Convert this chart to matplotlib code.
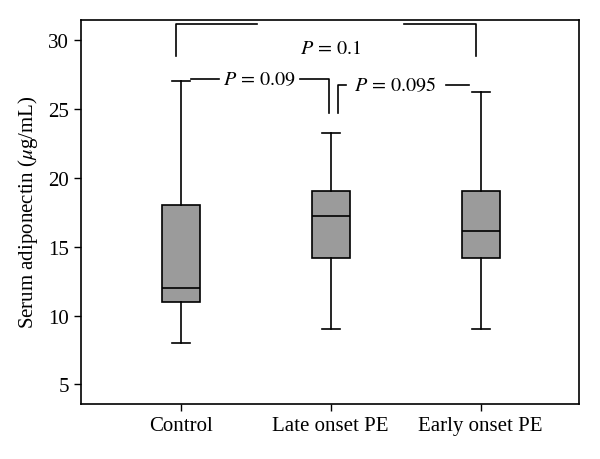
import matplotlib
matplotlib.use("Agg")
import matplotlib.pyplot as plt

plt.rcParams['font.family'] = ['Liberation Serif', 'DejaVu Serif']
plt.rcParams['mathtext.fontset'] = 'stix'

groups = ['Control', 'Late onset PE', 'Early onset PE']
whislo = [8, 9, 9]
q1 = [11, 14.2, 14.2]
med = [12, 17.2, 16.1]
q3 = [18, 19, 19]
whishi = [27, 23.2, 26.2]

# comparisons: (left x, right x, left leg bottom, right leg bottom, bar y, label)
pairs = [(1, 3, 28.8, 28.8, 31.15, r'$P\,=\,0.1$'),
         (1, 2, 27.05, 24.7, 27.15, r'$P\,=\,0.09$'),
         (2, 3, 24.7, 26.25, 26.7, r'$P\,=\,0.095$')]

stats = []
for i in range(3):
    stats.append({'whislo': whislo[i], 'q1': q1[i], 'med': med[i],
                  'q3': q3[i], 'whishi': whishi[i], 'fliers': []})

fig, ax = plt.subplots(figsize=(6, 4.6), dpi=100)
fig.subplots_adjust(left=0.135, right=0.965, top=0.955, bottom=0.12)

ax.bxp(stats, positions=[1, 2, 3], widths=0.25, patch_artist=True,
       showfliers=False,
       boxprops=dict(facecolor='#9b9b9b', edgecolor='black', linewidth=1.2),
       medianprops=dict(color='black', linewidth=1.2),
       whiskerprops=dict(color='black', linewidth=1.2),
       capprops=dict(color='black', linewidth=1.2),
       capwidths=0.12)

lw = 1.2
fs = 14.5
# top bracket Control vs Early
x0, x1, b0, b1, y, lab = pairs[0]
ax.plot([x0 - 0.03, x0 - 0.03, 1.51], [b0, y, y], color='black', lw=lw)
ax.plot([2.49, x1 - 0.03, x1 - 0.03], [y, y, b1], color='black', lw=lw)
ax.text(2.0, 29.35, lab, ha='center', va='center', fontsize=fs)

# Control vs Late
x0, x1, b0, b1, y, lab = pairs[1]
ax.plot([1.07, 1.255], [y, y], color='black', lw=lw)
ax.plot([1.795, 1.99, 1.99], [y, y, b1], color='black', lw=lw)
ax.text(1.525, y, lab, ha='center', va='center', fontsize=fs)

# Late vs Early
x0, x1, b0, b1, y, lab = pairs[2]
ax.plot([2.05, 2.05, 2.1], [b0, y, y], color='black', lw=lw)
ax.plot([2.765, 2.92], [y, y], color='black', lw=lw)
ax.text(2.43, y, lab, ha='center', va='center', fontsize=fs)

ax.set_xlim(0.335, 3.655)
ax.set_ylim(3.6, 31.45)
ax.set_yticks([5, 10, 15, 20, 25, 30])
ax.set_xticks([1, 2, 3])
ax.set_xticklabels(groups)
ax.tick_params(labelsize=15, length=5, width=1)
ax.set_ylabel(r'Serum adiponectin ($\mu$g/mL)', fontsize=15, labelpad=6)
for s in ax.spines.values():
    s.set_linewidth(1.2)

fig.savefig('out.png', dpi=100)
